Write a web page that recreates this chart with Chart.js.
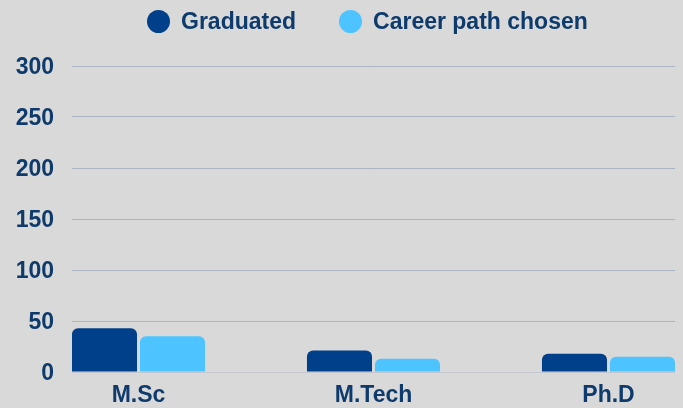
<!DOCTYPE html>
<html lang="en">
<head>
    <meta charset="UTF-8">
    <title>Graduated vs Career path chosen</title>
    <script src="https://cdn.jsdelivr.net/npm/chart.js"></script>
    <style>
        html, body {
            margin: 0;
            padding: 0;
            background: #d9d9d9;
        }
        .wrap {
            position: relative;
            width: 683px;
            height: 408px;
        }
        .legend {
            position: absolute;
            top: 10px;
            left: 147px;
            display: flex;
            align-items: center;
            height: 23px;
            font-family: "Liberation Sans", Arial, sans-serif;
            font-weight: bold;
            font-size: 23px;
            line-height: 23px;
            color: #0e3b6c;
        }
        .legend .item {
            display: flex;
            align-items: center;
            margin-right: 43px;
        }
        .legend .dot {
            width: 23px;
            height: 23px;
            border-radius: 50%;
            margin-right: 11px;
        }
    </style>
</head>
<body>
<div class="wrap">
    <canvas id="degreeChart" width="683" height="408"></canvas>
    <div class="legend" id="legend"></div>
</div>

<script>
    const categories = ['M.Sc', 'M.Tech', 'Ph.D'];
    const graduated = [43, 21, 18];
    const careerChosen = [35, 13, 15];
    const yTicks = [0, 50, 100, 150, 200, 250, 300];

    const seriesNames = ['Graduated', 'Career path chosen'];
    const seriesColors = ['#00408a', '#4dc4ff'];
    const textColor = '#0e3b6c';

    // build the html legend
    const legendEl = document.getElementById('legend');
    seriesNames.forEach((name, i) => {
        const item = document.createElement('div');
        item.className = 'item';
        item.innerHTML = '<span class="dot" style="background:' + seriesColors[i] + '"></span>' + name;
        legendEl.appendChild(item);
    });

    function toPoints(values) {
        return values.map((v, i) => ({ x: i, y: v }));
    }

    const ctx = document.getElementById('degreeChart').getContext('2d');

    new Chart(ctx, {
        type: 'bar',
        data: {
            datasets: [{
                label: seriesNames[0],
                data: toPoints(graduated),
                backgroundColor: seriesColors[0]
            }, {
                label: seriesNames[1],
                data: toPoints(careerChosen),
                backgroundColor: seriesColors[1]
            }]
        },
        options: {
            responsive: false,
            animation: false,
            categoryPercentage: 0.579,
            barPercentage: 0.956,
            borderRadius: 6,
            layout: {
                padding: { top: 66, right: 8, bottom: 0, left: 0 }
            },
            plugins: {
                legend: { display: false },
                tooltip: { enabled: false }
            },
            scales: {
                x: {
                    type: 'linear',
                    offset: false,
                    min: -0.283,
                    max: 2.283,
                    grid: { display: false },
                    border: { display: false },
                    afterFit: (scale) => { scale.height = 36; },
                    ticks: {
                        stepSize: 1,
                        includeBounds: false,
                        padding: 2,
                        color: textColor,
                        font: { family: '"Liberation Sans", Arial, sans-serif', size: 23, weight: 'bold' },
                        callback: (v) => categories[v]
                    }
                },
                y: {
                    min: 0,
                    max: 300,
                    afterFit: (scale) => { scale.width = 72; },
                    afterBuildTicks: (scale) => {
                        scale.ticks = yTicks.map(v => ({ value: v }));
                    },
                    grid: {
                        drawTicks: false,
                        color: (c) => c.tick && c.tick.value === 0 ? '#c4c8ce' : '#aab4c2'
                    },
                    border: { display: false },
                    ticks: {
                        padding: 18,
                        labelOffset: 2,
                        color: textColor,
                        font: { family: '"Liberation Sans", Arial, sans-serif', size: 23, weight: 'bold' }
                    }
                }
            }
        }
    });
</script>
</body>
</html>
